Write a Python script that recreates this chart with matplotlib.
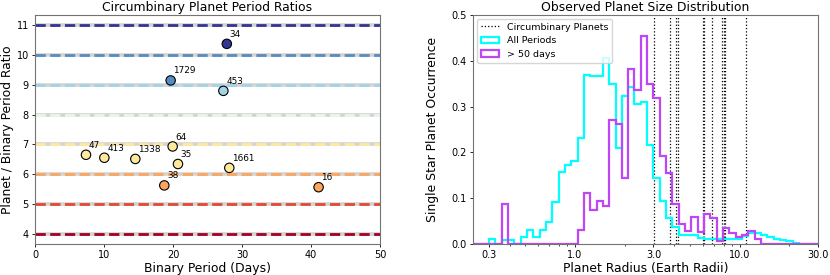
import numpy as np
import matplotlib
matplotlib.use("Agg")
import matplotlib.pyplot as plt
from matplotlib.colors import Normalize

# circumbinary planets: binary period (days) and planet/binary period ratio
names = ['34', '1729', '453', '47', '413', '1338', '64', '35', '1661', '38', '16']
p_bin = [27.8, 19.66, 27.3, 7.39, 10.05, 14.54, 19.95, 20.72, 28.16, 18.74, 41.1]
ratio = [10.38, 9.15, 8.8, 6.65, 6.55, 6.51, 6.93, 6.34, 6.21, 5.62, 5.56]
res_levels = [4, 5, 6, 7, 8, 9, 10, 11]

# circumbinary planet radii (Earth radii)
cb_radii = [3.02, 3.8, 4.12, 4.23, 5.96, 6.1, 6.78, 7.82, 8.0, 8.2, 10.9]

# single star occurrence per log bin (52 bins from 0.3 to 30 R_earth)
all_periods = [0.010, 0.0, 0.008, 0.008, 0.0, 0.015, 0.031, 0.016, 0.031, 0.047,
               0.091, 0.157, 0.173, 0.182, 0.231, 0.369, 0.367, 0.367, 0.406, 0.349,
               0.210, 0.324, 0.342, 0.306, 0.311, 0.217, 0.145, 0.094, 0.056, 0.037,
               0.020, 0.020, 0.019, 0.013, 0.012, 0.012, 0.010, 0.010, 0.011, 0.011,
               0.017, 0.024, 0.024, 0.020, 0.015, 0.012, 0.008, 0.006, 0.002, 0.0,
               0.0, 0.0]
long_periods = [0.0, 0.0, 0.087, 0.0, 0.0, 0.0, 0.0, 0.0, 0.0, 0.0,
                0.0, 0.0, 0.0, 0.0, 0.030, 0.111, 0.075, 0.093, 0.084, 0.270,
                0.263, 0.144, 0.382, 0.337, 0.455, 0.350, 0.319, 0.193, 0.155, 0.088,
                0.044, 0.028, 0.060, 0.027, 0.066, 0.056, 0.006, 0.035, 0.025, 0.016,
                0.020, 0.028, 0.012, 0.0, 0.0, 0.0, 0.0, 0.0, 0.0, 0.0,
                0.0, 0.0]

plt.rcParams['font.family'] = 'DejaVu Sans'
small = 6.4
tick = 7.0
big = 8.9

fig = plt.figure(figsize=(8.3, 2.75), dpi=100)
ax1 = fig.add_axes([35 / 830, 31 / 275, 345 / 830, 229 / 275])
ax2 = fig.add_axes([473 / 830, 31 / 275, 345 / 830, 229 / 275])

cmap = plt.get_cmap('RdYlBu')
norm = Normalize(4, 11)

# resonance lines
for r in res_levels:
    ax1.axhline(r, color='lightgray', lw=2.6, zorder=1)
    ax1.axhline(r, color=cmap(norm(r)), ls='--', lw=2.0, zorder=2)

cols = [cmap(norm(np.ceil(r))) for r in ratio]
ax1.scatter(p_bin, ratio, s=46, c=cols, edgecolors='k', linewidths=0.8, zorder=3)
for n, x, y in zip(names, p_bin, ratio):
    ax1.annotate(n, (x, y), xytext=(2, 5), textcoords='offset points',
                 fontsize=small, ha='left', va='baseline')

ax1.set_xlim(0, 50)
ax1.set_ylim(3.65, 11.35)
ax1.set_yticks(res_levels)
ax1.set_xticks([0, 10, 20, 30, 40, 50])
ax1.set_title('Circumbinary Planet Period Ratios', fontsize=big, pad=3)
ax1.set_xlabel('Binary Period (Days)', fontsize=big, labelpad=1)
ax1.set_ylabel('Planet / Binary Period Ratio', fontsize=big, labelpad=1.5)

# size distribution
w = 2.0 / 52
edges = 10 ** np.linspace(np.log10(0.3) - 4 * w, np.log10(30) + 4 * w, 61)
centers = np.sqrt(edges[:-1] * edges[1:])
all_w = np.pad(all_periods, 4)
long_w = np.pad(long_periods, 4)

for i, r in enumerate(cb_radii):
    ax2.axvline(r, color='k', ls=':', lw=0.9,
                label='Circumbinary Planets' if i == 0 else None)
ax2.hist(centers, bins=edges, weights=all_w, histtype='step', color='cyan',
         lw=1.6, label='All Periods')
ax2.hist(centers, bins=edges, weights=long_w, histtype='step', color='#bf45f5',
         lw=1.6, label='> 50 days')

ax2.set_xscale('log')
ax2.set_xlim(0.24, 30)
ax2.set_ylim(0, 0.5)
ax2.set_xticks([0.3, 1, 3, 10, 30])
ax2.set_xticklabels(['0.3', '1.0', '3.0', '10.0', '30.0'])
ax2.xaxis.set_minor_formatter(matplotlib.ticker.NullFormatter())
ax2.set_title('Observed Planet Size Distribution', fontsize=big, pad=3)
ax2.set_xlabel('Planet Radius (Earth Radii)', fontsize=big, labelpad=1)
ax2.set_ylabel('Single Star Planet Occurrence', fontsize=big, labelpad=9)
ax2.legend(loc='upper left', fontsize=6.8, borderaxespad=0.4)

for ax in (ax1, ax2):
    ax.tick_params(labelsize=tick, length=2.5, width=0.6, pad=2)
    ax.tick_params(which='minor', length=1.5, width=0.5)
    for s in ax.spines.values():
        s.set_color('0.45')
        s.set_linewidth(0.8)

fig.savefig('out.png', dpi=100)
